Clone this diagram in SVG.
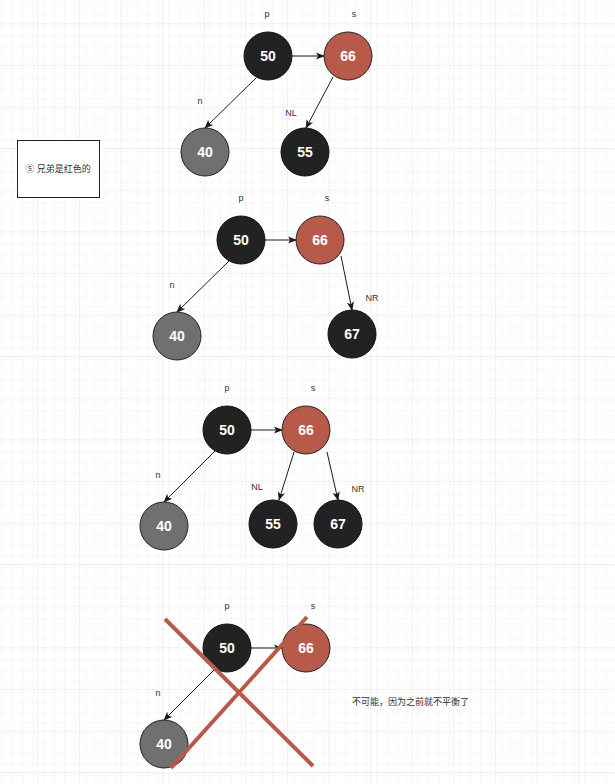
<svg xmlns="http://www.w3.org/2000/svg" width="615" height="784" viewBox="0 0 615 784">
<defs>
  <pattern id="minor" x="37.3" y="23.3" width="10.4" height="10.4" patternUnits="userSpaceOnUse">
    <path d="M0 0V10.4M0 0H10.4" stroke="#f0f0f0" stroke-width="1" fill="none"/>
  </pattern>
  <pattern id="major" x="37.3" y="23.3" width="41.6" height="41.6" patternUnits="userSpaceOnUse">
    <rect width="41.6" height="41.6" fill="url(#minor)"/>
    <path d="M0 0V41.6M0 0H41.6" stroke="#e4e4e4" stroke-width="1" fill="none"/>
  </pattern>
  <marker id="arr" viewBox="0 0 10 10" refX="9" refY="5" markerWidth="9" markerHeight="9" markerUnits="userSpaceOnUse" orient="auto">
    <path d="M0 1 L10 5 L0 9 L2.5 5 Z" fill="#1a1a1a"/>
  </marker>
  <style>
    .blk{fill:#222222;stroke:#111;stroke-width:1}
    .red{fill:#b85a4a;stroke:#222;stroke-width:1}
    .gry{fill:#707070;stroke:#222;stroke-width:1}
    .num{font-family:"Liberation Sans",Arial,sans-serif;font-weight:bold;font-size:14px;fill:#ffffff;text-anchor:middle}
    .lbl{font-family:"Liberation Sans",Arial,sans-serif;font-size:9px;fill:#333;text-anchor:middle}
    .cjk{font-family:"Liberation Sans","Noto Sans CJK SC",sans-serif;font-size:9px;fill:#333}
    .edge{stroke:#1a1a1a;stroke-width:1;fill:none;marker-end:url(#arr)}
    .x{stroke:#b85a4a;stroke-width:4;stroke-linecap:butt}
  </style>
</defs>
<rect width="615" height="784" fill="#ffffff"/>
<rect width="615" height="784" fill="url(#major)"/>

<g id="note">
  <rect x="17.5" y="140.5" width="82" height="57" fill="#ffffff" stroke="#222" stroke-width="1"/>
  <text class="cjk" x="58" y="172" text-anchor="middle">⑤ 兄弟是红色的</text>
</g>

<g id="connectors">
  <line class="edge" x1="292" y1="56" x2="324" y2="56"/>
  <line class="edge" x1="256" y1="78" x2="205" y2="128"/>
  <line class="edge" x1="333" y1="77" x2="306" y2="128"/>

  <line class="edge" x1="265" y1="240" x2="296" y2="240"/>
  <line class="edge" x1="229" y1="261" x2="177" y2="312"/>
  <line class="edge" x1="341" y1="256" x2="352" y2="310"/>

  <line class="edge" x1="251" y1="430" x2="282" y2="430"/>
  <line class="edge" x1="215" y1="451" x2="164" y2="502"/>
  <line class="edge" x1="294" y1="452" x2="279" y2="500"/>
  <line class="edge" x1="327" y1="452" x2="338" y2="500"/>

  <line class="edge" x1="251" y1="648" x2="282" y2="648"/>
  <line class="edge" x1="215" y1="669" x2="164" y2="720"/>
</g>

<g id="tree1">
  <g id="t1-50"><circle class="blk" cx="268" cy="56" r="24"/><text class="num" x="268" y="61">50</text></g>
  <g id="t1-66"><circle class="red" cx="348" cy="56" r="24"/><text class="num" x="348" y="61">66</text></g>
  <g id="t1-40"><circle class="gry" cx="205" cy="152" r="24"/><text class="num" x="205" y="157">40</text></g>
  <g id="t1-55"><circle class="blk" cx="305" cy="152" r="24"/><text class="num" x="305" y="157">55</text></g>
  <text class="lbl" x="267" y="17">p</text>
  <text class="lbl" x="354" y="17">s</text>
  <text class="lbl" x="200" y="104">n</text>
  <text class="lbl" x="291" y="116">NL</text>
</g>

<g id="tree2">
  <g id="t2-50"><circle class="blk" cx="241" cy="240" r="24"/><text class="num" x="241" y="245">50</text></g>
  <g id="t2-66"><circle class="red" cx="320" cy="240" r="24"/><text class="num" x="320" y="245">66</text></g>
  <g id="t2-40"><circle class="gry" cx="177" cy="336" r="24"/><text class="num" x="177" y="341">40</text></g>
  <g id="t2-67"><circle class="blk" cx="352" cy="334" r="24"/><text class="num" x="352" y="339">67</text></g>
  <text class="lbl" x="241" y="201">p</text>
  <text class="lbl" x="327" y="201">s</text>
  <text class="lbl" x="172" y="288">n</text>
  <text class="lbl" x="372" y="301">NR</text>
</g>

<g id="tree3">
  <g id="t3-50"><circle class="blk" cx="227" cy="430" r="24"/><text class="num" x="227" y="435">50</text></g>
  <g id="t3-66"><circle class="red" cx="306" cy="430" r="24"/><text class="num" x="306" y="435">66</text></g>
  <g id="t3-40"><circle class="gry" cx="164" cy="526" r="24"/><text class="num" x="164" y="531">40</text></g>
  <g id="t3-55"><circle class="blk" cx="273" cy="524" r="24"/><text class="num" x="273" y="529">55</text></g>
  <g id="t3-67"><circle class="blk" cx="338" cy="524" r="24"/><text class="num" x="338" y="529">67</text></g>
  <text class="lbl" x="227" y="391">p</text>
  <text class="lbl" x="313" y="391">s</text>
  <text class="lbl" x="158" y="478">n</text>
  <text class="lbl" x="257" y="490">NL</text>
  <text class="lbl" x="358" y="492">NR</text>
</g>

<g id="tree4">
  <g id="t4-50"><circle class="blk" cx="227" cy="648" r="24"/><text class="num" x="227" y="653">50</text></g>
  <g id="t4-66"><circle class="red" cx="306" cy="648" r="24"/><text class="num" x="306" y="653">66</text></g>
  <g id="t4-40"><circle class="gry" cx="164" cy="744" r="24"/><text class="num" x="164" y="749">40</text></g>
  <text class="lbl" x="227" y="609">p</text>
  <text class="lbl" x="313" y="609">s</text>
  <text class="lbl" x="158" y="696">n</text>
</g>

<g id="cross">
  <line class="x" x1="165" y1="619" x2="313" y2="766"/>
  <line class="x" x1="307" y1="617" x2="171" y2="768"/>
</g>

<g id="remark">
  <text class="cjk" x="352" y="705">不可能，因为之前就不平衡了</text>
</g>
</svg>
